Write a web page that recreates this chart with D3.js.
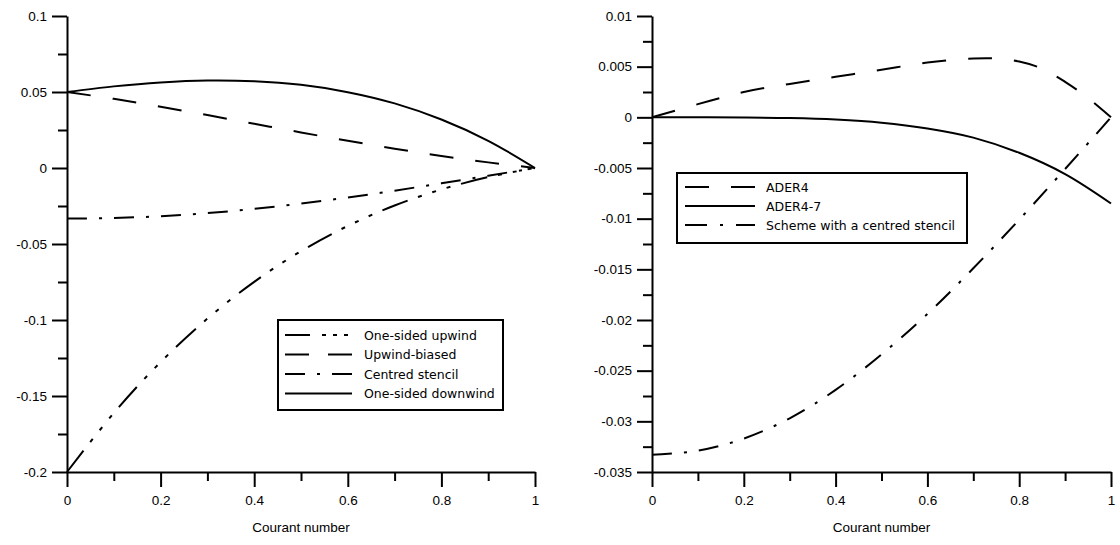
<!DOCTYPE html>
<html><head><meta charset="utf-8">
<script src="https://cdn.jsdelivr.net/npm/d3@7"></script>
<style>
html,body{margin:0;padding:0;background:#fff;}
svg{display:block;}
</style></head>
<body>
<svg id="chart" width="1120" height="545"></svg>
<script>
// ---------- data ----------
const courant = [0, 0.1, 0.2, 0.3, 0.4, 0.5, 0.6, 0.7, 0.8, 0.9, 1];
const oneSidedUpwind   = [-0.2, -0.1612, -0.1277, -0.0991, -0.0749, -0.0547, -0.0381, -0.0247, -0.0141, -0.0060, 0];
const upwindBiased     = [0.05, 0.0455, 0.0403, 0.0348, 0.0291, 0.0234, 0.0179, 0.0127, 0.0079, 0.0037, 0];
const centredStencil   = [-0.0333, -0.0329, -0.0317, -0.0297, -0.0269, -0.0234, -0.0194, -0.0149, -0.0101, -0.0051, 0];
const oneSidedDownwind = [0.05, 0.0537, 0.0563, 0.0576, 0.0571, 0.0547, 0.0499, 0.0425, 0.0319, 0.0179, 0];

const courantR = [0, 0.1, 0.2, 0.3, 0.4, 0.5, 0.6, 0.7, 0.75, 0.8, 0.85, 0.9, 0.95, 1];
const ader4    = [0, 0.0013, 0.0025, 0.0033, 0.0040, 0.0047, 0.0054, 0.0058, 0.0058, 0.0055, 0.0048, 0.0035, 0.0019, 0];
const ader47   = [0, -0.000001, -0.000014, -0.00007, -0.00022, -0.00053, -0.0011, -0.0020, -0.0035, -0.0056, -0.0085];
const centredR = [-0.0333, -0.0329, -0.0317, -0.0297, -0.0269, -0.0234, -0.0194, -0.0149, -0.0101, -0.0051, 0];

const xTicks = [0, 0.2, 0.4, 0.6, 0.8, 1];
const xTickLabels = ["0", "0.2", "0.4", "0.6", "0.8", "1"];
const xMinor = [0.1, 0.3, 0.5, 0.7, 0.9];
const yTicksL = [0.1, 0.05, 0, -0.05, -0.1, -0.15, -0.2];
const yTickLabelsL = ["0.1", "0.05", "0", "-0.05", "-0.1", "-0.15", "-0.2"];
const yMinorL = [0.075, 0.025, -0.025, -0.075, -0.125, -0.175];
const yTicksR = [0.01, 0.005, 0, -0.005, -0.01, -0.015, -0.02, -0.025, -0.03, -0.035];
const yTickLabelsR = ["0.01", "0.005", "0", "-0.005", "-0.01", "-0.015", "-0.02", "-0.025", "-0.03", "-0.035"];
const yMinorR = [0.0075, 0.0025, -0.0025, -0.0075, -0.0125, -0.0175, -0.0225, -0.0275, -0.0325];
const xTitle = "Courant number";

const legendL = ["One-sided upwind", "Upwind-biased", "Centred stencil", "One-sided downwind"];
const legendR = ["ADER4", "ADER4-7", "Scheme with a centred stencil"];

// ---------- styles ----------
const DASH_LONG = "24,22";
const DASH_DOT = "20,12,3,12";
const DASH_DOT3 = "27,11,4,11,4,11,4,11";
const DASH_DOT3_LEG = "25,12,4,7,4,7,4,4";
const SOLID = null;

const svg = d3.select("#chart");
const axisFont = "'Liberation Sans', Arial, sans-serif";
const legFont = "'DejaVu Sans', Verdana, sans-serif";

function panel(cfg) {
  const x = d3.scaleLinear().domain([0, 1]).range([cfg.x0, cfg.x1]);
  const y = d3.scaleLinear().domain(cfg.yDomain).range([cfg.yBottom, cfg.yTop]);
  const g = svg.append("g");

  // minor ticks
  g.append("g").attr("transform", `translate(0,${cfg.yBottom})`)
    .call(d3.axisBottom(x).tickValues(xMinor).tickSize(9).tickSizeOuter(0).tickFormat(""))
    .call(s => s.select(".domain").remove());
  g.append("g").attr("transform", `translate(${cfg.x0},0)`)
    .call(d3.axisLeft(y).tickValues(cfg.yMinor).tickSize(9).tickSizeOuter(0).tickFormat(""))
    .call(s => s.select(".domain").remove());

  // major axes
  g.append("g").attr("transform", `translate(0,${cfg.yBottom})`)
    .call(d3.axisBottom(x).tickValues(xTicks).tickSize(15).tickSizeOuter(0)
      .tickPadding(8).tickFormat((d, i) => xTickLabels[i]));
  g.append("g").attr("transform", `translate(${cfg.x0},0)`)
    .call(d3.axisLeft(y).tickValues(cfg.yTicks).tickSize(15).tickSizeOuter(0)
      .tickPadding(5).tickFormat((d, i) => cfg.yLabels[i]));
  g.selectAll(".tick line, .domain").attr("stroke", "#000").attr("stroke-width", 2);
  g.selectAll(".tick text").attr("font-family", axisFont).attr("font-size", 13.5).attr("fill", "#000");

  g.append("text").attr("x", (cfg.x0 + cfg.x1) / 2).attr("y", 532)
    .attr("text-anchor", "middle").attr("font-family", axisFont).attr("font-size", 13.5)
    .text(xTitle);

  const clip = "clip" + cfg.id;
  g.append("clipPath").attr("id", clip).append("rect")
    .attr("x", cfg.x0 - 2).attr("y", cfg.yTop - 2).attr("width", cfg.x1 - cfg.x0 + 4).attr("height", cfg.yBottom - cfg.yTop + 4);

  cfg.series.forEach(s => {
    const line = d3.line().x((d, i) => x(s.xs[i])).y(d => y(d)).curve(d3.curveCatmullRom.alpha(0.5));
    g.append("path").attr("d", line(s.values)).attr("fill", "none")
      .attr("stroke", "#000").attr("stroke-width", 2)
      .attr("stroke-dasharray", s.dash).attr("clip-path", `url(#${clip})`);
  });

  // legend
  const L = cfg.legend;
  const lg = g.append("g");
  lg.append("rect").attr("x", L.x).attr("y", L.y).attr("width", L.w).attr("height", L.h)
    .attr("fill", "#fff").attr("stroke", "#000").attr("stroke-width", 2);
  cfg.series.forEach((s, i) => {
    const yy = L.row0 + i * L.step;
    lg.append("line").attr("x1", L.lx0).attr("x2", L.lx1).attr("y1", yy).attr("y2", yy)
      .attr("stroke", "#000").attr("stroke-width", 2).attr("stroke-dasharray", s.legDash || s.dash);
    lg.append("text").attr("x", L.tx).attr("y", yy).attr("dy", "0.36em")
      .attr("font-family", legFont).attr("font-size", 12.5).text(s.name);
  });
}

panel({
  id: "L", x0: 67, x1: 535, yTop: 16, yBottom: 472, yDomain: [-0.2, 0.1],
  yTicks: yTicksL, yLabels: yTickLabelsL, yMinor: yMinorL,
  series: [
    { name: legendL[0], xs: courant, values: oneSidedUpwind, dash: DASH_DOT3, legDash: DASH_DOT3_LEG },
    { name: legendL[1], xs: courant, values: upwindBiased, dash: DASH_LONG, legDash: "24,19" },
    { name: legendL[2], xs: courant, values: centredStencil, dash: DASH_DOT },
    { name: legendL[3], xs: courant, values: oneSidedDownwind, dash: SOLID }
  ],
  legend: { x: 278, y: 320, w: 225, h: 90, row0: 335, step: 19.5, lx0: 285, lx1: 352, tx: 364 }
});

panel({
  id: "R", x0: 652, x1: 1111, yTop: 16, yBottom: 472, yDomain: [-0.035, 0.01],
  yTicks: yTicksR, yLabels: yTickLabelsR, yMinor: yMinorR,
  series: [
    { name: legendR[0], xs: courantR, values: ader4, dash: DASH_LONG, legDash: "24,22" },
    { name: legendR[1], xs: courant, values: ader47, dash: SOLID },
    { name: legendR[2], xs: courant, values: centredR, dash: DASH_DOT, legDash: "22,13,3,13" }
  ],
  legend: { x: 677, y: 173, w: 290, h: 70, row0: 187, step: 19, lx0: 685, lx1: 755, tx: 766 }
});
</script>
</body></html>
